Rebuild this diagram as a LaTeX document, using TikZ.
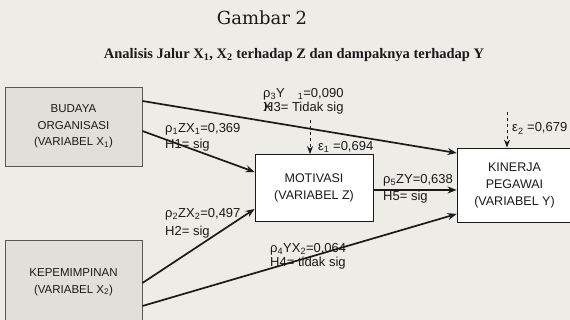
\documentclass[tikz,border=0pt]{standalone}
\usepackage{fontspec}
\setmainfont{Liberation Serif}
\setsansfont{Liberation Sans}
\newfontfamily\titlefont{DejaVu Serif}
\usepackage{xcolor}
\usetikzlibrary{calc,positioning,arrows.meta}
\definecolor{paper}{HTML}{EEECE7}
\definecolor{shade}{HTML}{E2DFDA}
\definecolor{edge}{HTML}{5A5650}
\definecolor{ink}{HTML}{1A1A1A}
\tikzset{
  varbox/.style={rectangle, draw=ink, line width=0.8pt, fill=white, align=center, inner sep=0pt,
    font=\sffamily\fontsize{12.5}{17}\selectfont, text=ink},
  shadebox/.style={varbox, fill=shade, draw=edge, font=\sffamily\fontsize{11.5}{16.5}\selectfont},
  path/.style={-{Stealth[length=9pt,width=7pt]}, line width=1.7pt, ink},
  errpath/.style={-{Stealth[length=8pt,width=6pt]}, line width=1pt, ink, dashed},
  coef/.style={anchor=base west, inner sep=0pt, font=\sffamily\fontsize{13}{15}\selectfont, text=ink}
}

\begin{document}
\begin{tikzpicture}[x=1pt, y=-1pt]
  % Page
  \fill[paper] (0,0) rectangle (570,320);
  \useasboundingbox (0,0) rectangle (570,320);

  % Title
  \node[font=\titlefont\fontsize{18}{20}\selectfont, text=ink] (title) at (262,18) {Gambar 2};
  \node[font=\bfseries\fontsize{14.5}{16}\selectfont, text=ink] (subtitle) at (294,55)
    {Analisis Jalur X\textsubscript{1}, X\textsubscript{2} terhadap Z dan dampaknya terhadap Y};

  % Variables
  \node[shadebox, minimum width=137pt, minimum height=79pt] (budaya) at (73.5,126.5)
    {BUDAYA\\ORGANISASI\\(VARIABEL X\textsubscript{1})};
  \node[shadebox, minimum width=137pt, minimum height=84pt] (pimpin) at (73.5,282)
    {KEPEMIMPINAN\\(VARIABEL X\textsubscript{2})};
  \node[varbox, minimum width=118pt, minimum height=67pt] (motivasi) at (314,188)
    {MOTIVASI\\(VARIABEL Z)};
  \node[varbox, minimum width=115pt, minimum height=74pt] (kinerja) at (514.5,185)
    {KINERJA\\PEGAWAI\\(VARIABEL Y)};

  % Paths
  \draw[path] ([yshift=25.5pt]budaya.east) -- ([yshift=32pt]kinerja.west);
  \draw[path] ([yshift=-4.5pt]budaya.east) -- ([yshift=16pt]motivasi.west);
  \draw[path] ([yshift=-1pt]pimpin.east) -- ([yshift=-21pt]motivasi.west);
  \draw[path] ([yshift=-24pt]pimpin.east) -- ([yshift=-29pt]kinerja.west);
  \draw[path] ([yshift=-2pt]motivasi.east) -- ([yshift=-2pt]motivasi.east -| kinerja.west);

  % Residuals
  \coordinate (e1) at (310,120);
  \coordinate (e2) at (507,112);
  \draw[errpath] (e1) -- (e1 |- motivasi.north);
  \draw[errpath] (e2) -- (e2 |- kinerja.north);

  % Coefficients
  \node[coef] (p3a) at (263,97.5) {ρ\textsubscript{3}Y\quad\textsubscript{1}=0,090};
  \node[coef] (p3b) at (263,111.5) {\rlap{X}\kern1pt H3= Tidak sig};
  \node[coef] (p1a) at (165,132.5) {ρ\textsubscript{1}ZX\textsubscript{1}=0,369};
  \node[coef] (p1b) at (165,149) {H1= sig};
  \node[coef] (eps1) at (318,150.5) {ε\textsubscript{1} =0,694};
  \node[coef] (p2a) at (165,217.5) {ρ\textsubscript{2}ZX\textsubscript{2}=0,497};
  \node[coef] (p2b) at (165,236) {H2= sig};
  \node[coef] (p5a) at (383,183.5) {ρ\textsubscript{5}ZY=0,638};
  \node[coef] (p5b) at (383,201) {H5= sig};
  \node[coef] (p4a) at (270,252.5) {ρ\textsubscript{4}YX\textsubscript{2}=0,064};
  \node[coef] (p4b) at (270,266) {H4= tidak sig};
  \node[coef] (eps2) at (512,132) {ε\textsubscript{2} =0,679};

\end{tikzpicture}
\end{document}
